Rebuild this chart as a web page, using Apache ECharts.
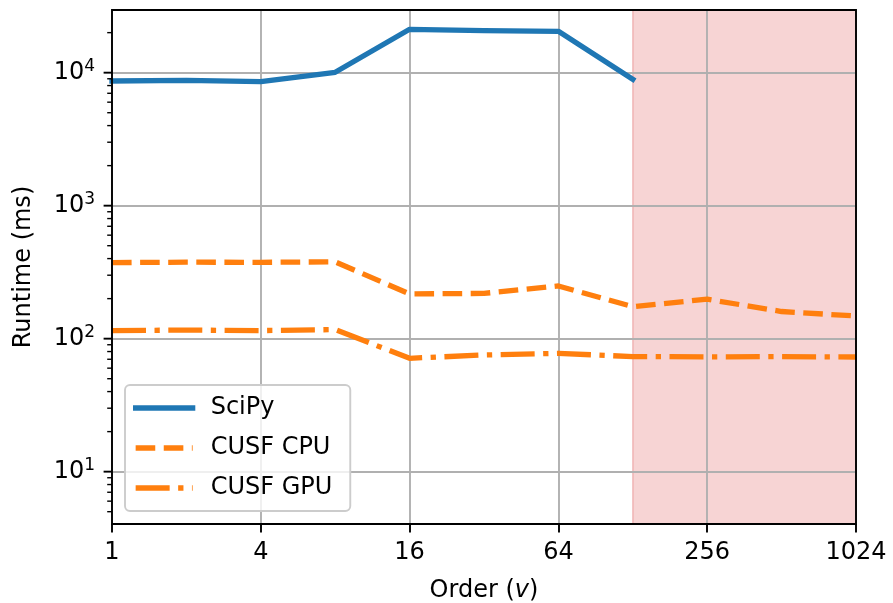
<!DOCTYPE html>
<html>
<head>
<meta charset="utf-8">
<script src="https://cdn.jsdelivr.net/npm/echarts@6/dist/echarts.min.js"></script>
<style>html,body{margin:0;padding:0;background:#fff;}#chart{width:893px;height:603px;}</style>
</head>
<body>
<div id="chart"></div>
<script>
// ---- data ----
const orders = [1, 2, 4, 8, 16, 32, 64, 128, 256, 512, 1024];
const scipy = [8660, 8740, 8560, 10070, 21200, 20700, 20470, 8920];
const cusfCpu = [373, 376, 375, 378, 217, 219, 249, 174, 198, 160, 148];
const cusfGpu = [115, 116, 115, 117, 71.2, 75.4, 77.6, 73.3, 73.0, 73.3, 72.8];
const shadedRange = [128, 1024];
const xTickLabels = ['1', '4', '16', '64', '256', '1024'];
const yMajorTicks = [10, 100, 1000, 10000];
const yMinorTicks = [5, 6, 7, 8, 9, 20, 30, 40, 50, 60, 70, 80, 90,
  200, 300, 400, 500, 600, 700, 800, 900,
  2000, 3000, 4000, 5000, 6000, 7000, 8000, 9000, 20000];

const FONT = 'DejaVu Sans';
const pairs = (xs, ys) => ys.map((v, i) => [xs[i], v]);

function tickSeries(vals, len, w) {
  return {
    type: 'custom', silent: true, clip: false, z: 4,
    data: vals.map(v => [orders[0], v]),
    renderItem: function (params, api) {
      const p = api.coord([api.value(0), api.value(1)]);
      return { type: 'line', shape: { x1: p[0] - len, y1: p[1], x2: p[0], y2: p[1] },
        style: { stroke: '#000', lineWidth: w } };
    }
  };
}

const chart = echarts.init(document.getElementById('chart'));
chart.setOption({
  animation: false,
  backgroundColor: '#fff',
  textStyle: { fontFamily: FONT },
  grid: { left: 112, top: 10, width: 744, height: 514, show: true,
    containLabel: false, outerBoundsMode: 'none',
    borderColor: '#000', borderWidth: 1.9, backgroundColor: 'transparent', z: 5 },
  xAxis: {
    type: 'log', logBase: 4, min: 1, max: 1024, z: 1.5,
    name: 'Order ({it|v})', nameLocation: 'middle', nameGap: 55,
    nameTextStyle: { fontFamily: FONT, fontSize: 24, color: '#000',
      rich: { it: { fontFamily: FONT, fontSize: 24, fontStyle: 'italic', color: '#000' } } },
    axisLine: { show: false },
    axisTick: { show: true, length: 8.4, lineStyle: { color: '#000', width: 1.9 } },
    axisLabel: { margin: 17, fontFamily: FONT, fontSize: 24, color: '#000',
      formatter: v => { const s = String(Math.round(v)); return xTickLabels.includes(s) ? s : ''; } },
    splitLine: { show: true, lineStyle: { color: '#b0b0b0', width: 1.9 } }
  },
  yAxis: {
    type: 'log', logBase: 10, min: 4.04, max: 29600, z: 1.5,
    name: 'Runtime (ms)', nameLocation: 'middle', nameGap: 76,
    nameTextStyle: { fontFamily: FONT, fontSize: 24, color: '#000' },
    axisLine: { show: false },
    axisTick: { show: false },
    axisLabel: { margin: 17, fontFamily: FONT, fontSize: 24, color: '#000',
      formatter: v => {
        const e = Math.log10(v), r = Math.round(e);
        if (Math.abs(e - r) > 1e-6) return '';
        return '10{sup|' + r + '}';
      },
      rich: { sup: { fontFamily: FONT, fontSize: 17, color: '#000', padding: [0, 0, 12, 0] } } },
    splitLine: { show: true, lineStyle: { color: '#b0b0b0', width: 1.9 } }
  },
  legend: {
    data: ['SciPy', 'CUSF CPU', 'CUSF GPU'],
    orient: 'vertical', left: 125, top: 385,
    itemWidth: 57, itemHeight: 14, itemGap: 12,
    padding: [9, 18, 9, 8],
    backgroundColor: 'rgba(255,255,255,0.8)', borderColor: '#cccccc', borderWidth: 1.9, borderRadius: 5,
    textStyle: { fontFamily: FONT, fontSize: 24, color: '#000', lineHeight: 28, padding: [0, 0, 0, 13] },
    itemStyle: { color: 'rgba(0,0,0,0)', borderWidth: 0, opacity: 0 },
    lineStyle: { width: 5.3 }
  },
  series: [
    { name: 'SciPy', type: 'line', data: pairs(orders, scipy), symbol: 'none', z: 2,
      lineStyle: { color: '#1f77b4', width: 5.3, cap: 'square', join: 'round' },
      itemStyle: { color: '#1f77b4' },
      markArea: { silent: true, z: 1,
        itemStyle: { color: 'rgba(214,39,40,0.2)', borderColor: 'rgba(214,39,40,0.25)', borderWidth: 1.5 },
        data: [[{ xAxis: shadedRange[0] }, { xAxis: shadedRange[1] }]] } },
    { name: 'CUSF CPU', type: 'line', data: pairs(orders, cusfCpu), symbol: 'none', z: 2,
      lineStyle: { color: '#ff7f0e', width: 5.3, type: [19.6, 8.5], cap: 'butt', join: 'round' },
      itemStyle: { color: '#ff7f0e' } },
    { name: 'CUSF GPU', type: 'line', data: pairs(orders, cusfGpu), symbol: 'none', z: 2,
      lineStyle: { color: '#ff7f0e', width: 5.3, type: [34, 8.5, 5.3, 8.5], cap: 'butt', join: 'round' },
      itemStyle: { color: '#ff7f0e' } },
    tickSeries(yMajorTicks, 8.4, 1.9),
    tickSeries(yMinorTicks, 4.8, 1.4)
  ]
});
</script>
</body>
</html>
